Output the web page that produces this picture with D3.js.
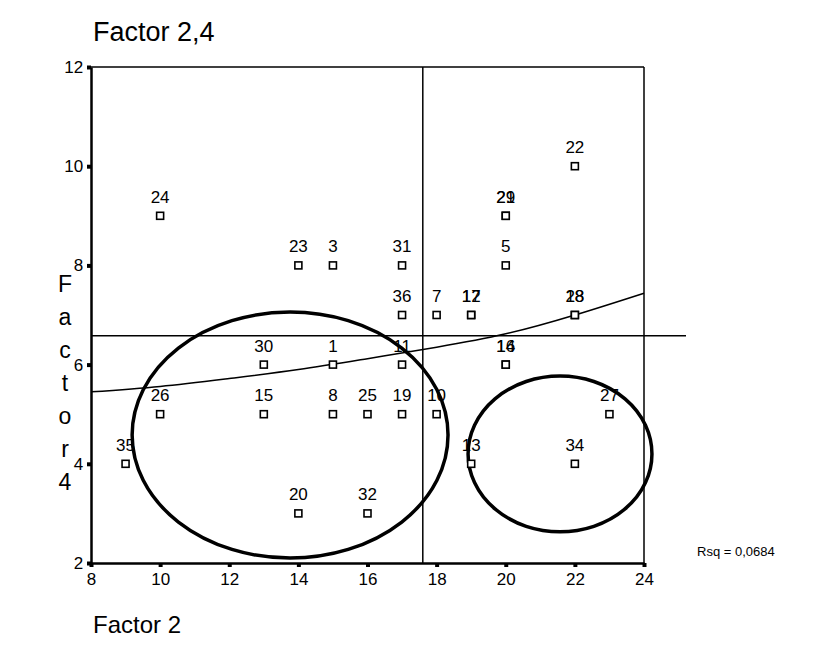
<!DOCTYPE html>
<html>
<head>
<meta charset="utf-8">
<script src="https://cdn.jsdelivr.net/npm/d3@7"></script>
<style>
  body { margin: 0; background: #fff; }
  svg { font-family: "Liberation Sans", Arial, sans-serif; }
</style>
</head>
<body>
<svg id="chart" width="825" height="664"></svg>
<script>
// Factor 2 vs Factor 4 scatter with case labels, mean lines and fit curve.

const caseIds  = [24, 23, 3, 31, 36, 7, 17, 12, 18, 28, 22, 29, 21, 5, 30, 1, 11, 16, 14, 26, 15, 8, 25, 19, 10, 27, 35, 13, 34, 20, 32];
const factor2  = [10, 14, 15, 17, 17, 18, 19, 19, 22, 22, 22, 20, 20, 20, 13, 15, 17, 20, 20, 10, 13, 15, 16, 17, 18, 23, 9, 19, 22, 14, 16];
const factor4  = [9, 8, 8, 8, 7, 7, 7, 7, 7, 7, 10, 9, 9, 8, 6, 6, 6, 6, 6, 5, 5, 5, 5, 5, 5, 5, 4, 4, 4, 3, 3];

const xTicks = [8, 10, 12, 14, 16, 18, 20, 22, 24];
const yTicks = [2, 4, 6, 8, 10, 12];

// reference lines (means)
const meanFactor2 = 17.6;
const meanFactor4 = 6.58;

// fit curve
const fitX = [8, 10, 12, 14, 16, 18, 20, 22, 24];
const fitY = [5.45, 5.56, 5.72, 5.9, 6.12, 6.35, 6.62, 7.0, 7.44];

// hand-drawn ellipses: centre and radii in data units
const ellipseCx = [13.76, 21.57];
const ellipseCy = [4.58, 4.2];
const ellipseRx = [4.57, 2.66];
const ellipseRy = [2.48, 1.57];

const svg = d3.select("#chart");
const margin = { top: 67, left: 91, right: 181, bottom: 101 };
const width = +svg.attr("width");
const height = +svg.attr("height");

const x = d3.scaleLinear().domain([8, 24]).range([margin.left, width - margin.right]);
const y = d3.scaleLinear().domain([2, 12]).range([height - margin.bottom, margin.top]);

const data = caseIds.map((id, i) => ({ id, x: factor2[i], y: factor4[i] }));

// frame: top and right borders
svg.append("line")
  .attr("x1", x(8)).attr("x2", x(24))
  .attr("y1", y(12)).attr("y2", y(12))
  .attr("stroke", "#000").attr("stroke-width", 1.5);
svg.append("line")
  .attr("x1", x(24)).attr("x2", x(24))
  .attr("y1", y(12)).attr("y2", y(2))
  .attr("stroke", "#000").attr("stroke-width", 1.5);

// axes
const xAxis = svg.append("g")
  .attr("transform", `translate(0,${y(2)})`)
  .call(d3.axisBottom(x).tickValues(xTicks).tickSize(4).tickSizeOuter(0));
const yAxis = svg.append("g")
  .attr("transform", `translate(${x(8)},0)`)
  .call(d3.axisLeft(y).tickValues(yTicks).tickSize(4).tickSizeOuter(0));

[xAxis, yAxis].forEach(a => {
  a.attr("font-size", 17).attr("font-family", "Liberation Sans, Arial, sans-serif");
  a.select(".domain").attr("stroke", "#000").attr("stroke-width", 2.5);
  a.selectAll(".tick line").attr("stroke", "#000").attr("stroke-width", 4);
  a.selectAll(".tick text").attr("fill", "#000");
});
xAxis.selectAll(".tick text").attr("dy", "0.9em");
yAxis.selectAll(".tick text").attr("dx", "-0.05em");

// mean reference lines
svg.append("line")
  .attr("x1", x(meanFactor2)).attr("x2", x(meanFactor2))
  .attr("y1", y(12)).attr("y2", y(2))
  .attr("stroke", "#000").attr("stroke-width", 1.5);
svg.append("line")
  .attr("x1", x(8)).attr("x2", x(24) + 42)
  .attr("y1", y(meanFactor4)).attr("y2", y(meanFactor4))
  .attr("stroke", "#000").attr("stroke-width", 1.5);

// fit curve
const line = d3.line()
  .x((d, i) => x(fitX[i]))
  .y(d => y(d))
  .curve(d3.curveNatural);
svg.append("path")
  .attr("d", line(fitY))
  .attr("fill", "none")
  .attr("stroke", "#000")
  .attr("stroke-width", 1.5);

// ellipses
svg.selectAll(".ring")
  .data(ellipseCx)
  .join("ellipse")
  .attr("class", "ring")
  .attr("cx", d => x(d))
  .attr("cy", (d, i) => y(ellipseCy[i]))
  .attr("rx", (d, i) => x(8 + ellipseRx[i]) - x(8))
  .attr("ry", (d, i) => y(2) - y(2 + ellipseRy[i]))
  .attr("fill", "none")
  .attr("stroke", "#000")
  .attr("stroke-width", 3.5);

// points
svg.selectAll(".pt")
  .data(data)
  .join("rect")
  .attr("class", "pt")
  .attr("x", d => x(d.x) - 3.5)
  .attr("y", d => y(d.y) - 3.5)
  .attr("width", 7)
  .attr("height", 7)
  .attr("fill", "#fff")
  .attr("stroke", "#000")
  .attr("stroke-width", 1.6);

svg.selectAll(".lbl")
  .data(data)
  .join("text")
  .attr("class", "lbl")
  .attr("x", d => x(d.x))
  .attr("y", d => y(d.y) - 13)
  .attr("text-anchor", "middle")
  .attr("font-size", 17)
  .attr("fill", "#000")
  .text(d => d.id);

// titles
svg.append("text")
  .attr("x", 93).attr("y", 41)
  .attr("font-size", 27)
  .text("Factor 2,4");

svg.append("text")
  .attr("x", 93).attr("y", 633)
  .attr("font-size", 24)
  .text("Factor 2");

svg.append("g")
  .selectAll("text")
  .data("Factor4".split(""))
  .join("text")
  .attr("x", 65)
  .attr("y", (d, i) => 292 + i * 33)
  .attr("text-anchor", "middle")
  .attr("font-size", 23)
  .text(d => d);

svg.append("text")
  .attr("x", 697).attr("y", 556)
  .attr("font-size", 13)
  .text("Rsq = 0,0684");
</script>
</body>
</html>
